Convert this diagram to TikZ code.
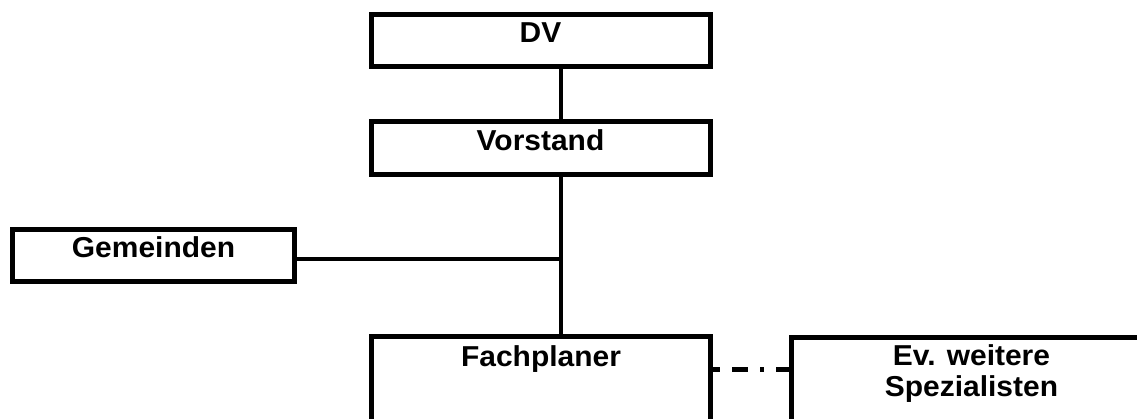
\documentclass[tikz,border=0pt]{standalone}
\usepackage{fontspec}
\setmainfont{Liberation Sans}
\newfontfamily\boxfont[FakeStretch=1.04]{Liberation Sans}
\begin{document}
\begin{tikzpicture}[x=1pt,y=-1pt,
  orgbox/.style={draw=black, line width=5pt, rectangle, inner sep=0pt,
    font=\boxfont\bfseries\fontsize{28.8}{31}\selectfont, anchor=north west},
  conn/.style={draw=black, line width=4pt},
  dashconn/.style={draw=black, line width=4.3pt,
    dash pattern=on 7pt off 12pt on 16pt off 12pt on 4pt off 12pt on 40pt}]
\clip (0,0) rectangle (1137,418);
\fill[white] (0,0) rectangle (1137,418);
% boxes
\node[orgbox, minimum width=339pt, text height=28.3pt, text depth=24.3pt] (DV) at (368.5,11.7) {DV};
\node[orgbox, minimum width=339pt, text height=29pt, text depth=24.3pt] (Vorstand) at (368.5,119) {Vorstand};
\node[orgbox, minimum width=282pt, text height=28.5pt, text depth=23.5pt] (Gemeinden) at (10,226.5) {Gemeinden};
\node[orgbox, minimum width=339pt, text height=30pt, text depth=120pt] (Fachplaner) at (369,334) {Fachplaner};
\node[orgbox, minimum width=360pt, text height=59.5pt, text depth=100pt, align=center] (Ev) at (789,334.5) {Ev. weitere\\Spezialisten};
% helper coordinates
\coordinate (spine) at (561,0);
\coordinate (gy) at (0,259);
\coordinate (dy) at (0,369.5);
% connectors
\draw[conn] (DV.south -| spine) -- (Vorstand.north -| spine);
\draw[conn] (Vorstand.south -| spine) -- (Fachplaner.north -| spine);
\draw[conn] (Gemeinden.east |- gy) -- (spine |- gy);
\draw[dashconn] (Fachplaner.east |- dy) -- (Ev.west |- dy);
\end{tikzpicture}
\end{document}
